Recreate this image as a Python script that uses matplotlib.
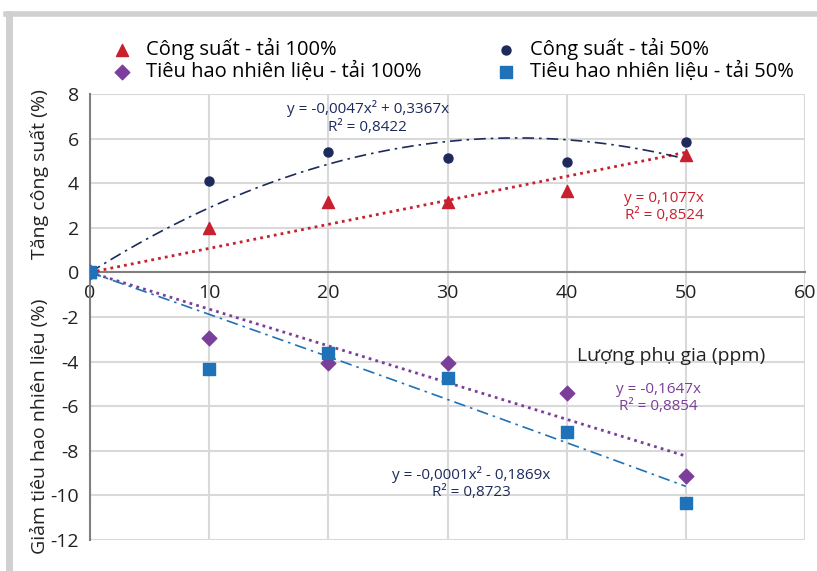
import numpy as np
import matplotlib.pyplot as plt
from matplotlib.lines import Line2D

plt.rcParams['font.family'] = ['Open Sans', 'DejaVu Sans']
plt.rcParams['axes.unicode_minus'] = False

# additive dose (ppm)
x = [0, 10, 20, 30, 40, 50]
# power increase (%)
cs_100 = [0, 2.0, 3.15, 3.15, 3.65, 5.25]
cs_50 = [0, 4.1, 5.4, 5.15, 4.97, 5.83]
# fuel consumption decrease (%)
th_100 = [0, -2.92, -4.08, -4.08, -5.4, -9.15]
th_50 = [0, -4.35, -3.6, -4.72, -7.15, -10.35]

# trendline coefficients (a*x^2 + b*x)
fit_cs_100 = (0, 0.1077)
fit_cs_50 = (-0.0047, 0.3367)
fit_th_100 = (0, -0.1647)
fit_th_50 = (-0.0001, -0.1869)

red = '#c8202e'
navy = '#1f2a5c'
purple = '#7b3f9b'
blue = '#1f72b8'
txt = '#222222'

fig = plt.figure(figsize=(8.17, 5.71), dpi=100)
ax = fig.add_axes([90 / 817, 1 - 540 / 571, 715 / 817, 446 / 571])

xx = np.linspace(0, 50, 200)
def trend(c):
    return c[0] * xx ** 2 + c[1] * xx

ax.plot(xx, trend(fit_cs_100), color=red, ls=(0, (1, 1.5)), lw=2.0, zorder=3)
ax.plot(xx, trend(fit_cs_50), color=navy, ls=(0, (7, 3, 1.5, 3)), lw=1.2, zorder=3)
ax.plot(xx, trend(fit_th_100), color=purple, ls=(0, (1, 1.5)), lw=2.0, zorder=3)
ax.plot(xx, trend(fit_th_50), color=blue, ls=(0, (7, 3, 1.5, 3)), lw=1.2, zorder=3)

h1 = ax.scatter(x, cs_100, marker='^', s=75, color=red, zorder=4, label='Công suất - tải 100%')
h2 = ax.scatter(x, cs_50, marker='o', s=42, color=navy, zorder=4, label='Công suất - tải 50%')
h3 = ax.scatter(x, th_100, marker='D', s=55, color=purple, zorder=4, label='Tiêu hao nhiên liệu - tải 100%')
h4 = ax.scatter(x, th_50, marker='s', s=65, color=blue, zorder=5, label='Tiêu hao nhiên liệu - tải 50%')

ax.set_xlim(0, 60)
ax.set_ylim(-12, 8)
ax.set_xticks(range(0, 61, 10))
ax.set_yticks(range(-12, 9, 2))
ax.grid(True, color='#d9d9d9', lw=1.5, zorder=0)
ax.set_axisbelow(True)
for s in ['top', 'right']:
    ax.spines[s].set_visible(False)
ax.spines['bottom'].set_position(('data', 0))
ax.spines['bottom'].set_color('#7f7f7f')
ax.spines['bottom'].set_linewidth(1.5)
ax.spines['left'].set_color('#7f7f7f')
ax.spines['left'].set_linewidth(1.5)
ax.tick_params(length=0, labelsize=14, colors=txt)
ax.tick_params(axis='x', pad=8)
ax.tick_params(axis='y', pad=8)

# trendline equations
ax.text(23.3, 6.95, 'y = -0,0047x² + 0,3367x\nR² = 0,8422', color=navy, fontsize=11,
        ha='center', va='center', multialignment='center', linespacing=1.2)
ax.text(48.2, 2.92, 'y = 0,1077x\nR² = 0,8524', color=red, fontsize=11,
        ha='center', va='center', multialignment='center', linespacing=1.2)
ax.text(47.7, -5.63, 'y = -0,1647x\nR² = 0,8854', color=purple, fontsize=11,
        ha='center', va='center', multialignment='center', linespacing=1.2)
ax.text(32.0, -9.46, 'y = -0,0001x² - 0,1869x\nR² = 0,8723', color=navy, fontsize=11,
        ha='center', va='center', multialignment='center', linespacing=1.2)
ax.text(48.8, -3.73, 'Lượng phụ gia (ppm)', color=txt, fontsize=14, ha='center', va='center')

fig.text(40 / 817, 1 - 174 / 571, 'Tăng công suất (%)', rotation=90, ha='center', va='center',
         fontsize=14, color=txt)
fig.text(40 / 817, 1 - 426 / 571, 'Giảm tiêu hao nhiên liệu (%)', rotation=90, ha='center', va='center',
         fontsize=14, color=txt)

fig.legend(handles=[h1, h3, h2, h4], ncol=2, loc='upper left', bbox_to_anchor=(110 / 817, 1 - 38 / 571),
           frameon=False, fontsize=14.5, handletextpad=0.6, columnspacing=3.6, labelspacing=0.1,
           handlelength=1.2, borderaxespad=0, borderpad=0)

# light grey frame around the figure
fig.add_artist(Line2D([6 / 817, 1], [1 - 14 / 571, 1 - 14 / 571], color='#d0d0d0', lw=4))
fig.add_artist(Line2D([9 / 817, 9 / 817], [0, 1 - 14 / 571], color='#d0d0d0', lw=5))

fig.savefig('out.png', dpi=100)
